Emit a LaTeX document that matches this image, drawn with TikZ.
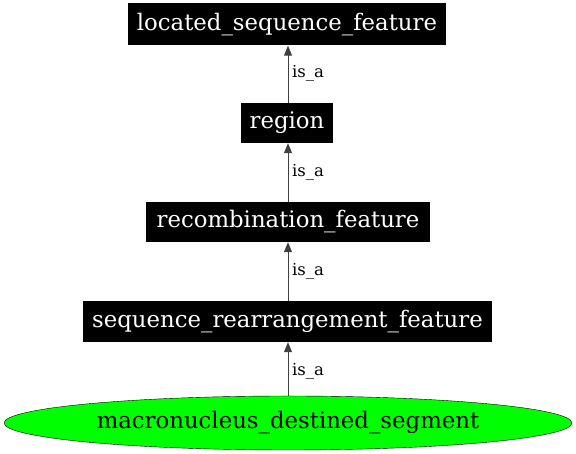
\documentclass[tikz,border=0pt]{standalone}
\usepackage{fontspec}
\setmainfont{DejaVu Serif}
\usetikzlibrary{shapes.geometric,arrows.meta}
\begin{document}
\begin{tikzpicture}[x=1pt,y=1pt,
  termbox/.style={rectangle,fill=black,text=white,inner sep=0pt,font=\fontsize{22.8}{26}\selectfont},
  leafnode/.style={ellipse,draw=black,fill=green!100,text=black,inner sep=0pt,font=\fontsize{22.8}{26}\selectfont},
  isa/.style={draw=black!75,line width=1pt,-{Triangle[length=10pt,width=8pt]}},
  lbl/.style={font=\fontsize{16.5}{19}\selectfont,anchor=west,inner sep=0pt}]
\useasboundingbox (0,0) rectangle (576,454);
\node[termbox,minimum width=318pt,minimum height=42pt] (lsf) at (287,429.5) {located\_sequence\_feature};
\node[termbox,minimum width=92pt,minimum height=40pt] (reg) at (287,331) {region};
\node[termbox,minimum width=284pt,minimum height=40pt] (rec) at (288,232) {recombination\_feature};
\node[termbox,minimum width=409pt,minimum height=41pt] (srf) at (287.5,132.5) {sequence\_rearrangement\_feature};
\node[leafnode,minimum width=568pt,minimum height=54pt] (mds) at (288,31) {macronucleus\_destined\_segment};
\draw[isa] (reg.north -| 288,0) -- (lsf.south -| 288,0);
\draw[isa] (rec.north -| 288,0) -- (reg.south -| 288,0);
\draw[isa] (srf.north -| 288,0) -- (rec.south -| 288,0);
\draw[isa] (mds.north -| 288,0) -- (srf.south -| 288,0);
\node[lbl] (l1) at (292,381) {is\_a};
\node[lbl] (l2) at (292,282) {is\_a};
\node[lbl] (l3) at (292,183) {is\_a};
\node[lbl] (l4) at (292,83) {is\_a};
\end{tikzpicture}
\end{document}
